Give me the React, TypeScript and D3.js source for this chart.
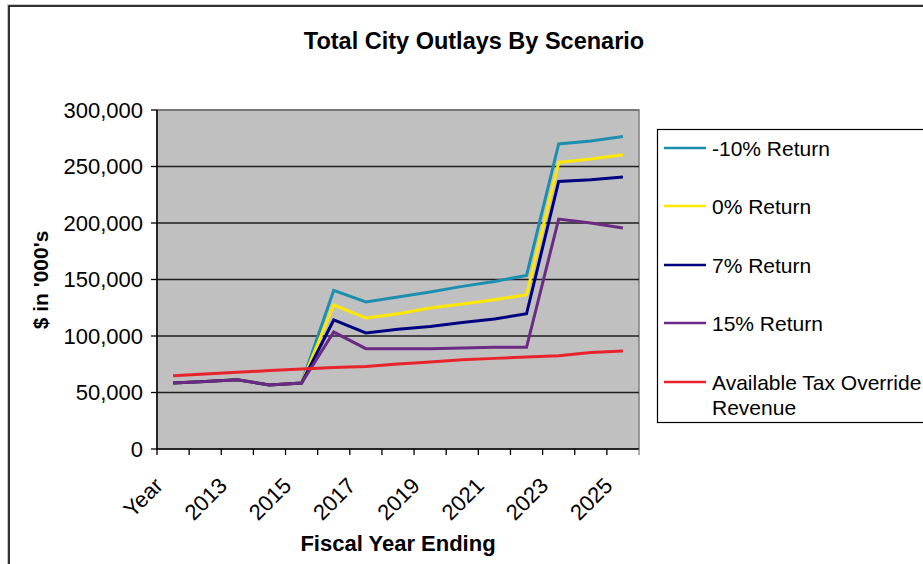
import React from "react";
import * as d3 from "d3";

const categories = ["Year", "2012", "2013", "2014", "2015", "2016", "2017", "2018", "2019", "2020", "2021", "2022", "2023", "2024", "2025"];
const negTen = [58400, 59800, 61300, 56600, 58400, 140400, 130100, 134500, 138900, 143900, 148300, 153600, 269900, 272600, 276600];
const zeroRet = [58400, 59800, 61300, 56600, 58400, 127400, 115900, 119700, 124800, 128300, 132100, 136500, 253600, 256600, 260400];
const sevenRet = [58400, 59800, 61300, 56600, 58400, 114200, 102700, 106000, 108500, 112000, 115000, 119700, 236800, 238300, 240700];
const fifteenRet = [58400, 59800, 61300, 56600, 58400, 103500, 88800, 88800, 88800, 89400, 90000, 90000, 203500, 200000, 195600];
const taxRevenue = [64900, 66400, 67900, 69400, 70800, 72200, 73100, 75300, 77000, 79000, 80200, 81400, 82600, 85500, 86700];
const yTicks = [0, 50000, 100000, 150000, 200000, 250000, 300000];
const seriesNames = ["-10% Return", "0% Return", "7% Return", "15% Return", "Available Tax Override|Revenue"];
const seriesColors = ["#1C8EB0", "#FFE800", "#000080", "#6B2A83", "#E8232B"];
const seriesData = [negTen, zeroRet, sevenRet, fifteenRet, taxRevenue];

const W = 923, H = 564;
const left = 157, right = 639, top = 110, bottom = 449;
const FONT = "Liberation Sans, Arial, sans-serif";

export default function App() {
  const x = d3.scaleBand<string>().domain(categories).range([left, right]).padding(0);
  const cx = (c: string) => (x(c) as number) + x.bandwidth() / 2;
  const y = d3.scaleLinear().domain([0, 300000]).range([bottom, top]);
  const fmt = d3.format(",");
  const line = d3.line<number>().x((_, i) => cx(categories[i])).y((v) => y(v));
  const boundaries = categories.map((c) => x(c) as number).concat([right]);

  const legendRows = [148, 206, 265, 323, 382];

  return (
    <svg width={W} height={H} style={{ position: "absolute", left: 0, top: 0, background: "#fff" }} fontFamily={FONT}>
      <rect x={0} y={0} width={W} height={H} fill="#fff" />
      {/* outer chart border */}
      <rect x={7.5} y={4.5} width={1000} height={1000} fill="none" stroke="#c8c8c8" strokeWidth={1} />
      <rect x={9} y={6} width={1000} height={1000} fill="none" stroke="#000" strokeWidth={1.6} />

      <text x={474} y={49} textAnchor="middle" fontSize={23.5} fontWeight="bold">Total City Outlays By Scenario</text>

      {/* plot area */}
      <rect x={left} y={top} width={right - left} height={bottom - top} fill="#C0C0C0" stroke="#808080" strokeWidth={1.5} />
      {yTicks.filter((t) => t > 0 && t < 300000).map((t) => (
        <line key={t} x1={left} x2={right} y1={y(t)} y2={y(t)} stroke="#1e1e1e" strokeWidth={1.3} />
      ))}
      <line x1={left} x2={right} y1={y(300000)} y2={y(300000)} stroke="#6e6e6e" strokeWidth={1.5} />

      {/* y axis */}
      <line x1={left} x2={left} y1={top} y2={bottom} stroke="#000" strokeWidth={1.5} />
      {yTicks.map((t) => (
        <g key={t}>
          <line x1={left - 6} x2={left} y1={y(t)} y2={y(t)} stroke="#000" strokeWidth={1.3} />
          <text x={143} y={y(t)} dy="0.36em" textAnchor="end" fontSize={22}>{fmt(t)}</text>
        </g>
      ))}

      {/* x axis */}
      <line x1={left} x2={right} y1={bottom} y2={bottom} stroke="#000" strokeWidth={1.5} />
      {boundaries.map((b, i) => (
        <line key={i} x1={b} x2={b} y1={bottom} y2={bottom + 6} stroke={i === boundaries.length - 1 ? "#808080" : "#000"} strokeWidth={1.3} />
      ))}
      {categories.map((c, i) => i % 2 === 0 ? (
        <text key={c} transform={`translate(${cx(c) - 9},487) rotate(-45)`} textAnchor="end" fontSize={22}>{c}</text>
      ) : null)}

      {/* series */}
      {seriesData.map((s, i) => (
        <path key={i} d={line(s) as string} fill="none" stroke={seriesColors[i]} strokeWidth={3} strokeLinejoin="miter" />
      ))}

      {/* axis titles */}
      <text x={398} y={551} textAnchor="middle" fontSize={22} fontWeight="bold">Fiscal Year Ending</text>
      <text transform="translate(40,280) rotate(-90)" textAnchor="middle" dy="0.36em" fontSize={21} fontWeight="bold">$ in '000's</text>

      {/* legend */}
      <rect x={657.5} y={129.5} width={300} height={293} fill="#fff" stroke="#000" strokeWidth={1.2} />
      {seriesNames.map((n, i) => {
        const parts = n.split("|");
        return (
          <g key={n}>
            <line x1={664} x2={706} y1={legendRows[i]} y2={legendRows[i]} stroke={seriesColors[i]} strokeWidth={2.5} />
            {parts.map((p, j) => (
              <text key={p} x={712} y={legendRows[i] + j * 25} dy="0.36em" fontSize={21}>{p}</text>
            ))}
          </g>
        );
      })}
    </svg>
  );
}
